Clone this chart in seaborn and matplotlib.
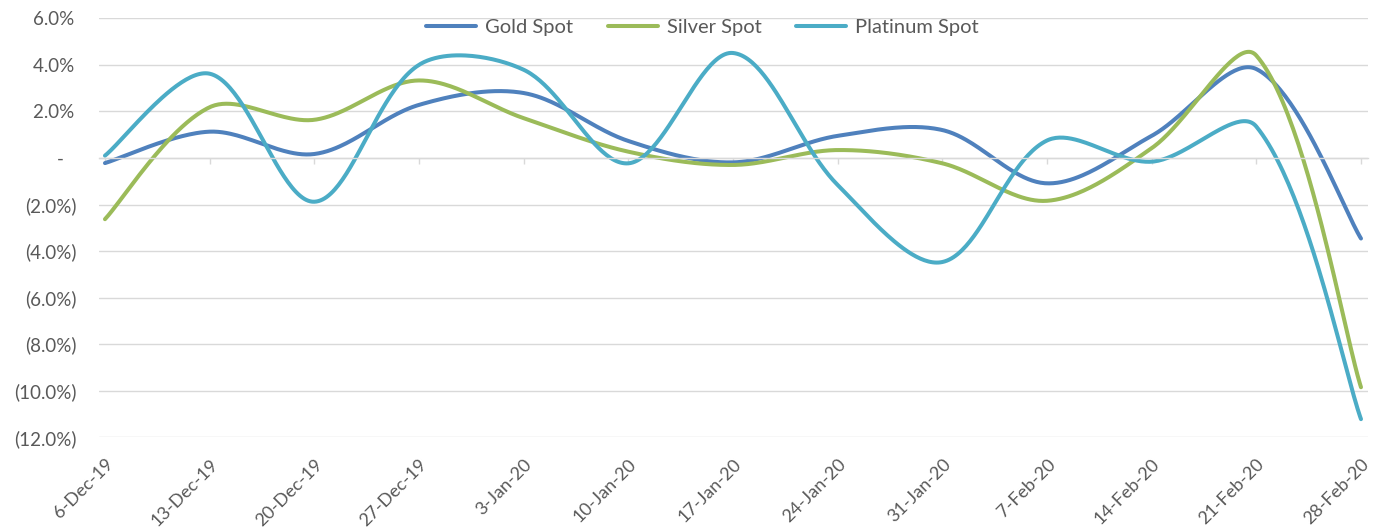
import numpy as np
import pandas as pd
import matplotlib
matplotlib.use("Agg")
import matplotlib.pyplot as plt
import seaborn as sns
from matplotlib.ticker import FuncFormatter

# ---- data ----
dates = ["6-Dec-19", "13-Dec-19", "20-Dec-19", "27-Dec-19", "3-Jan-20", "10-Jan-20",
         "17-Jan-20", "24-Jan-20", "31-Jan-20", "7-Feb-20", "14-Feb-20", "21-Feb-20", "28-Feb-20"]
gold = [-0.22, 1.13, 0.17, 2.28, 2.79, 0.73, -0.19, 0.95, 1.20, -1.09, 0.95, 3.82, -3.46]
silver = [-2.63, 2.18, 1.64, 3.33, 1.71, 0.27, -0.30, 0.34, -0.23, -1.84, 0.42, 4.40, -9.85]
platinum = [0.10, 3.62, -1.88, 4.00, 3.79, -0.23, 4.51, -1.16, -4.47, 0.75, -0.16, 1.35, -11.22]
series_names = ["Gold Spot", "Silver Spot", "Platinum Spot"]
colors = ["#4F81BD", "#9BBB59", "#4BACC6"]

# pixel scale of one category step and of one percent (used only for the smoothing weights)
PX_X, PX_Y = 104.67, 23.2


def smooth(xs, ys, n=50):
    """Excel-like smoothed line: cubic Bezier segments, tangents split by chord length."""
    P = np.column_stack([np.asarray(xs, float), np.asarray(ys, float)])
    N = len(P)
    scale = np.array([PX_X, PX_Y])

    def dist(a, b):
        return np.hypot(*((P[a] - P[b]) * scale))

    fwd, bwd = [], []
    for i in range(N):
        i0, i2 = max(i - 1, 0), min(i + 1, N - 1)
        T = P[i2] - P[i0]
        d0, d1 = dist(i0, i), dist(i, i2)
        tot = d0 + d1 if d0 + d1 > 0 else 1.0
        if i == 0 or i == N - 1:
            w_f = w_b = 0.5
        else:
            w_f, w_b = d1 / tot, d0 / tot
        fwd.append(P[i] + T * w_f / 3)
        bwd.append(P[i] - T * w_b / 3)
    ox, oy = [], []
    for i in range(N - 1):
        p0, c1, c2, p3 = P[i], fwd[i], bwd[i + 1], P[i + 1]
        t = np.linspace(0, 1, n, endpoint=(i == N - 2))[:, None]
        pts = (1 - t) ** 3 * p0 + 3 * (1 - t) ** 2 * t * c1 + 3 * (1 - t) * t ** 2 * c2 + t ** 3 * p3
        ox.extend(pts[:, 0])
        oy.extend(pts[:, 1])
    return ox, oy


xpos = np.arange(len(dates))
frames = []
for name, vals in zip(series_names, [gold, silver, platinum]):
    sx, sy = smooth(xpos, vals)
    frames.append(pd.DataFrame({"x": sx, "y": sy, "series": name}))
df = pd.concat(frames, ignore_index=True)

# ---- plot ----
sns.set_theme(style="white")
plt.rcParams["font.family"] = ["Lato", "DejaVu Sans"]
text_color = "#595959"
grid_color = "#D9D9D9"

fig = plt.figure(figsize=(13.74, 5.32), dpi=100)
ax = fig.add_axes([99 / 1374, 1 - 437.3 / 532, (1368 - 99) / 1374, (437.3 - 18.3) / 532])

sns.lineplot(data=df, x="x", y="y", hue="series", hue_order=series_names,
             palette=colors, sort=False, estimator=None, linewidth=2.9, ax=ax,
             solid_capstyle="round")

ax.set_ylim(-12, 6)
ax.set_xlim(-0.057, 12.067)
ax.set_yticks(np.arange(-12, 6.1, 2))


def fmt(v, pos):
    if abs(v) < 1e-9:
        return "-\u2007\u2009"
    if v < 0:
        return f"({abs(v):.1f}%)"
    return f"{v:.1f}%\u2009"


ax.yaxis.set_major_formatter(FuncFormatter(fmt))
ax.tick_params(axis="y", length=0, pad=16, labelsize=13.5, labelcolor=text_color)
ax.yaxis.grid(True, color=grid_color, linewidth=1.0)
ax.xaxis.grid(False)
for s in ["top", "right", "left"]:
    ax.spines[s].set_visible(False)
ax.spines["bottom"].set_position(("data", 0))
ax.spines["bottom"].set_color(grid_color)
ax.spines["bottom"].set_linewidth(1.0)
ax.set_xticks(xpos)
ax.tick_params(axis="x", bottom=True, length=4, width=1.0, color=grid_color,
               direction="out", labelbottom=False)
ax.set_xlabel("")
ax.set_ylabel("")

sec = ax.secondary_xaxis("bottom")
sec.set_xticks(xpos, labels=dates)
sec.spines["bottom"].set_visible(False)
sec.tick_params(length=0, pad=13.5, labelsize=13, labelcolor=text_color)
plt.setp(sec.get_xticklabels(), rotation=45, ha="right", va="top", rotation_mode="anchor")

sns.move_legend(ax, "center", bbox_to_anchor=(0.4756, 0.9785), ncol=3, frameon=False,
                title=None, fontsize=14.5, handlelength=2.48, handletextpad=0.45,
                columnspacing=1.71, labelcolor=text_color)

fig.savefig("out.png", dpi=100)
